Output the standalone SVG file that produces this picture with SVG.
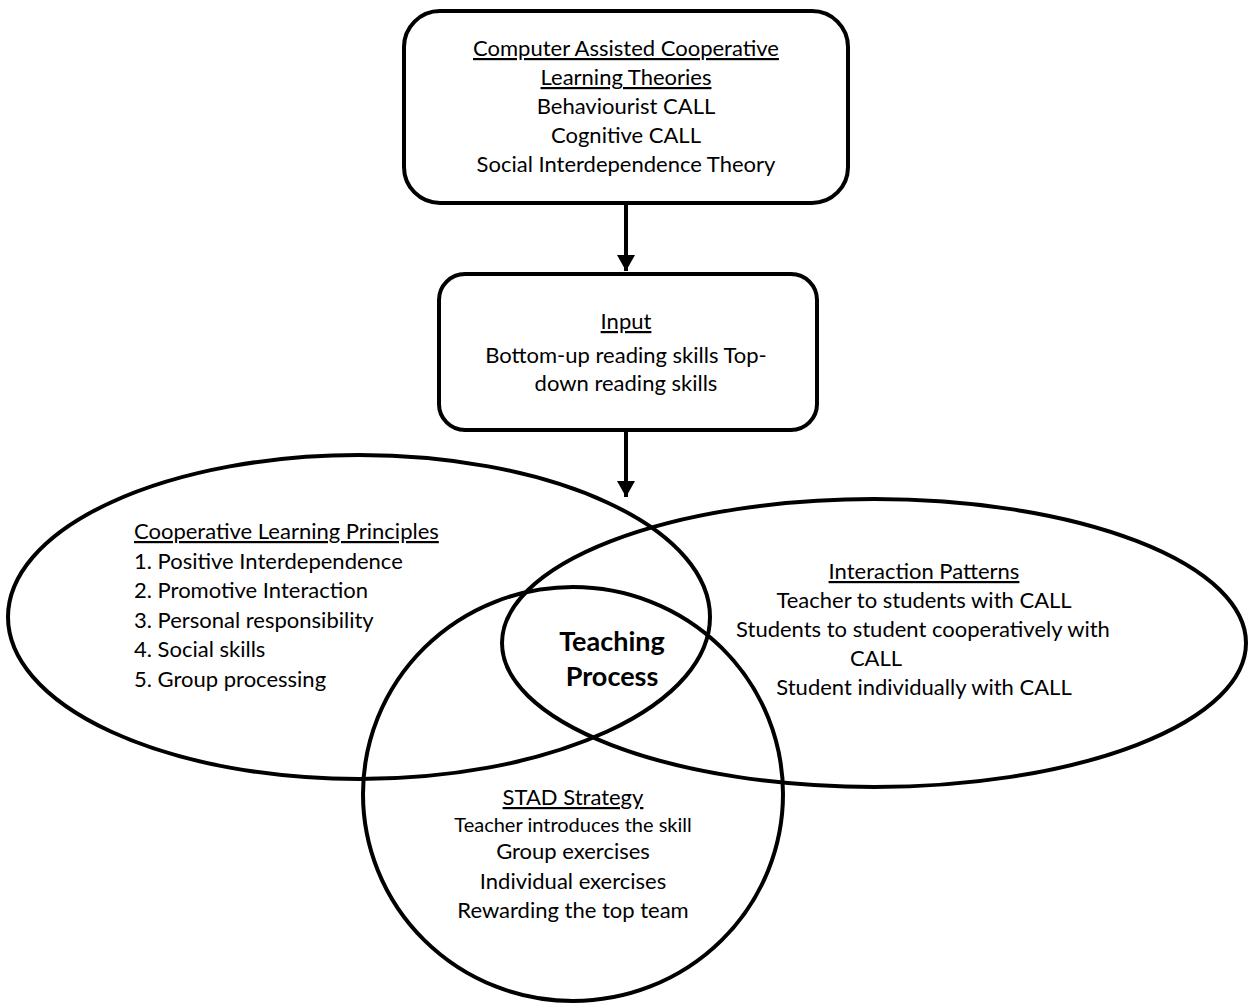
<svg xmlns="http://www.w3.org/2000/svg" width="1249" height="1003" viewBox="0 0 1249 1003">
<style>
.box{fill:#fff;stroke:#000;stroke-width:4}
.shape{fill:none;stroke:#000;stroke-width:4}
.t{font-family:Lato,"Liberation Sans",sans-serif;font-size:22px;fill:#000}
.c{text-anchor:middle}
.u{text-decoration:underline}
.s{font-size:20px}
.b{font-weight:bold;font-size:27px}
.conn{stroke:#000;stroke-width:4;fill:none}
</style>
<defs>
<marker id="ah" markerUnits="userSpaceOnUse" markerWidth="18" markerHeight="18" refX="16" refY="9" orient="auto">
<path d="M0,0 L16,9 L0,18 Z" fill="#000"/>
</marker>
</defs>
<rect width="1249" height="1003" fill="#fff"/>
<g id="theories">
<rect class="box" x="404" y="11" width="444" height="192" rx="36"/>
<text class="t c u" x="626" y="56">Computer Assisted Cooperative</text>
<text class="t c u" x="626" y="85">Learning Theories</text>
<text class="t c" x="626" y="114">Behaviourist CALL</text>
<text class="t c" x="626" y="143">Cognitive CALL</text>
<text class="t c" x="626" y="172">Social Interdependence Theory</text>
</g>
<g id="input">
<rect class="box" x="439" y="274" width="378" height="156" rx="26"/>
<text class="t c u" x="626" y="329">Input</text>
<text class="t c" x="626" y="363">Bottom-up reading skills Top-</text>
<text class="t c" x="626" y="391">down reading skills</text>
</g>
<g id="connectors">
<line class="conn" x1="626" y1="203" x2="626" y2="271" marker-end="url(#ah)"/>
<line class="conn" x1="626" y1="430" x2="626" y2="497" marker-end="url(#ah)"/>
</g>
<g id="principles">
<ellipse class="shape" cx="359" cy="617" rx="351" ry="162"/>
<text class="t u" x="134" y="539">Cooperative Learning Principles</text>
<text class="t" x="134" y="569">1. Positive Interdependence</text>
<text class="t" x="134" y="598">2. Promotive Interaction</text>
<text class="t" x="134" y="628">3. Personal responsibility</text>
<text class="t" x="134" y="657">4. Social skills</text>
<text class="t" x="134" y="687">5. Group processing</text>
</g>
<g id="patterns">
<ellipse class="shape" cx="874" cy="643" rx="372" ry="144"/>
<text class="t c u" x="924" y="579">Interaction Patterns</text>
<text class="t c" x="924" y="608">Teacher to students with CALL</text>
<text class="t c" x="923" y="637">Students to student cooperatively with</text>
<text class="t c" x="876" y="666">CALL</text>
<text class="t c" x="924" y="695">Student individually with CALL</text>
</g>
<g id="stad">
<ellipse class="shape" cx="573" cy="794" rx="210" ry="207"/>
<text class="t c u" x="573" y="805">STAD Strategy</text>
<text class="t c s" x="573" y="832">Teacher introduces the skill</text>
<text class="t c" x="573" y="859">Group exercises</text>
<text class="t c" x="573" y="889">Individual exercises</text>
<text class="t c" x="573" y="918">Rewarding the top team</text>
</g>
<g id="teaching">
<text class="t c b" x="612" y="651">Teaching</text>
<text class="t c b" x="612" y="686">Process</text>
</g>
</svg>
